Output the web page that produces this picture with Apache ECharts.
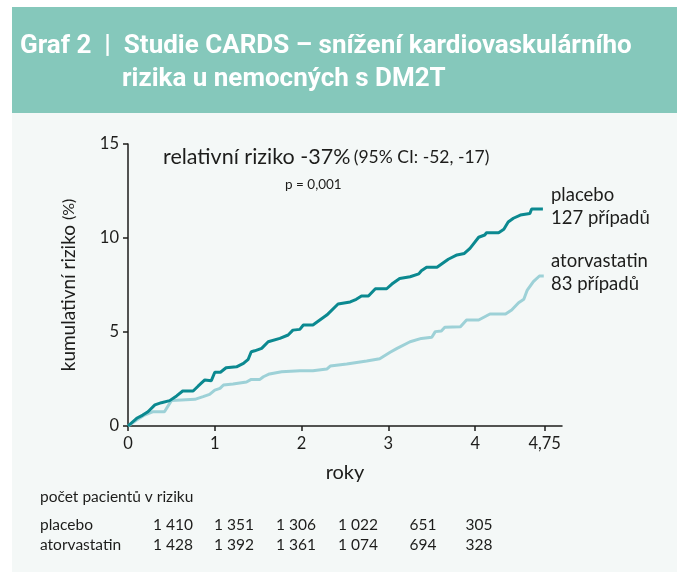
<!DOCTYPE html>
<html><head><meta charset="utf-8">
<script src="https://cdn.jsdelivr.net/npm/echarts@6/dist/echarts.min.js"></script>
<style>html,body{margin:0;padding:0;background:#fff}#c{width:694px;height:572px}</style>
</head><body><div id="c"></div>
<script>
// ---- data ----
const placebo = [[0,0],[0.1,0.41],[0.17,0.58],[0.23,0.76],[0.31,1.12],[0.385,1.24],[0.48,1.35],[0.56,1.6],[0.63,1.86],[0.75,1.86],[0.81,2.13],[0.885,2.45],[0.96,2.41],[1.0,2.86],[1.065,2.86],[1.13,3.1],[1.25,3.15],[1.33,3.33],[1.385,3.55],[1.42,3.95],[1.46,4.0],[1.54,4.13],[1.615,4.48],[1.75,4.66],[1.845,4.84],[1.9,5.1],[1.98,5.14],[2.02,5.37],[2.13,5.37],[2.29,5.9],[2.42,6.49],[2.56,6.6],[2.63,6.74],[2.69,6.91],[2.77,6.91],[2.85,7.3],[2.98,7.3],[3.04,7.55],[3.13,7.85],[3.25,7.94],[3.35,8.09],[3.38,8.26],[3.44,8.44],[3.56,8.44],[3.69,8.87],[3.79,9.1],[3.875,9.18],[3.94,9.45],[4.04,10.04],[4.11,10.16],[4.13,10.28],[4.27,10.28],[4.33,10.46],[4.38,10.85],[4.44,11.05],[4.52,11.22],[4.63,11.3],[4.65,11.54],[4.78,11.54]];
const atorvastatin = [[0,0],[0.1,0.32],[0.19,0.58],[0.29,0.76],[0.42,0.76],[0.5,1.35],[0.615,1.38],[0.77,1.42],[0.865,1.56],[0.94,1.68],[1.0,1.91],[1.06,2.0],[1.1,2.18],[1.21,2.23],[1.365,2.34],[1.42,2.48],[1.52,2.48],[1.56,2.62],[1.63,2.77],[1.77,2.89],[1.98,2.94],[2.13,2.94],[2.29,3.03],[2.33,3.19],[2.52,3.3],[2.75,3.46],[2.9,3.58],[3.02,3.92],[3.1,4.13],[3.25,4.48],[3.38,4.66],[3.5,4.72],[3.54,5.02],[3.61,5.05],[3.65,5.25],[3.83,5.28],[3.9,5.64],[4.04,5.64],[4.17,5.96],[4.35,5.96],[4.42,6.17],[4.5,6.56],[4.56,6.74],[4.6,7.23],[4.67,7.68],[4.74,7.98],[4.79,7.98]];
const xTicks = [0,1,2,3,4,4.8];
const xTickLabels = ['0','1','2','3','4','4,75'];
const yTicks = [0,5,10,15];
const riskRowLabels = ['placebo','atorvastatin'];
const riskPlacebo = ['1 410','1 351','1 306','1 022','651','305'];
const riskAtorva = ['1 428','1 392','1 361','1 074','694','328'];
const riskColX = [173,234,296,358,423,479];

const C_DARK = '#0b8990';
const C_LIGHT = '#9dd1d7';
const TXT = '#1d1d1b';
const F = 'Lato, "Noto Sans", sans-serif';
const TF = 'bold 26px Roboto, sans-serif';

const chart = echarts.init(document.getElementById('c'));
const graphics = [
  {type:'rect', z:-100, shape:{x:12,y:7,width:665,height:565}, style:{fill:'#f4f8f7'}},
  {type:'rect', z:-99, shape:{x:12,y:7,width:665,height:106}, style:{fill:'#85c8bb'}},
  {type:'text', left:20, top:33, style:{text:'Graf 2  |  Studie CARDS – snížení kardiovaskulárního', fill:'#fff', font:TF}},
  {type:'text', left:122, top:66, style:{text:'rizika u nemocných s DM2T', fill:'#fff', font:TF}},
  {type:'text', left:163, top:146, style:{rich:{a:{fontSize:21.5, fontFamily:F, fill:TXT},b:{fontSize:17.5, fontFamily:F, fill:TXT}}, text:'{a|relativní riziko -37%} {b|(95% CI: -52, -17)}'}},
  {type:'text', left:285, top:178, style:{text:'p = 0,001', fill:TXT, font:'13.5px '+F}},
  {type:'text', left:551, top:184, style:{text:'placebo\n127 případů', fill:TXT, font:'18.5px '+F, lineHeight:23}},
  {type:'text', left:551, top:250, style:{text:'atorvastatin\n83 případů', fill:TXT, font:'18.5px '+F, lineHeight:23}},
  {type:'text', left:40, top:489, style:{text:'počet pacientů v riziku', fill:TXT, font:'15.5px '+F}},
  {type:'text', left:40, top:517, style:{text:riskRowLabels[0], fill:TXT, font:'15.5px '+F}},
  {type:'text', left:40, top:537, style:{text:riskRowLabels[1], fill:TXT, font:'15.5px '+F}}
];
riskColX.forEach((x,i)=>{
  graphics.push({type:'text', x:x, y:517, style:{text:riskPlacebo[i], fill:TXT, font:'15.5px '+F, align:'center'}});
  graphics.push({type:'text', x:x, y:537, style:{text:riskAtorva[i], fill:TXT, font:'15.5px '+F, align:'center'}});
});

chart.setOption({
  animation:false,
  grid:{left:128, right:132, top:144, bottom:146, containLabel:false},
  xAxis:{type:'value', min:0, max:5,
    name:'roky', nameLocation:'middle', nameGap:37,
    nameTextStyle:{fontSize:20, fontFamily:F, color:TXT},
    axisLine:{lineStyle:{color:TXT, width:1.5}},
    axisTick:{show:true, length:5, lineStyle:{color:TXT, width:1.5}, customValues:xTicks},
    axisLabel:{customValues:xTicks, formatter:v=>{const i=xTicks.indexOf(v);return i>=0?xTickLabels[i]:'';}, fontSize:16.5, fontFamily:F, color:TXT, margin:9},
    splitLine:{show:false}},
  yAxis:{type:'value', min:0, max:15, interval:5,
    name:'{a|kumulativní riziko }{b|(%)}', nameLocation:'middle', nameGap:50, nameRotate:90,
    nameTextStyle:{rich:{a:{fontSize:19, fontFamily:F, color:TXT},b:{fontSize:16, fontFamily:F, color:TXT}}},
    axisLine:{show:true, lineStyle:{color:TXT, width:1.5}},
    axisTick:{show:true, length:5, lineStyle:{color:TXT, width:1.5}},
    axisLabel:{fontSize:16.5, fontFamily:F, color:TXT, margin:9},
    splitLine:{show:false}},
  graphic:graphics,
  series:[
    {name:'atorvastatin', type:'line', data:atorvastatin, showSymbol:false, symbol:'none', lineStyle:{color:C_LIGHT, width:3}, z:2},
    {name:'placebo', type:'line', data:placebo, showSymbol:false, symbol:'none', lineStyle:{color:C_DARK, width:3}, z:3}
  ]
});
</script></body></html>
